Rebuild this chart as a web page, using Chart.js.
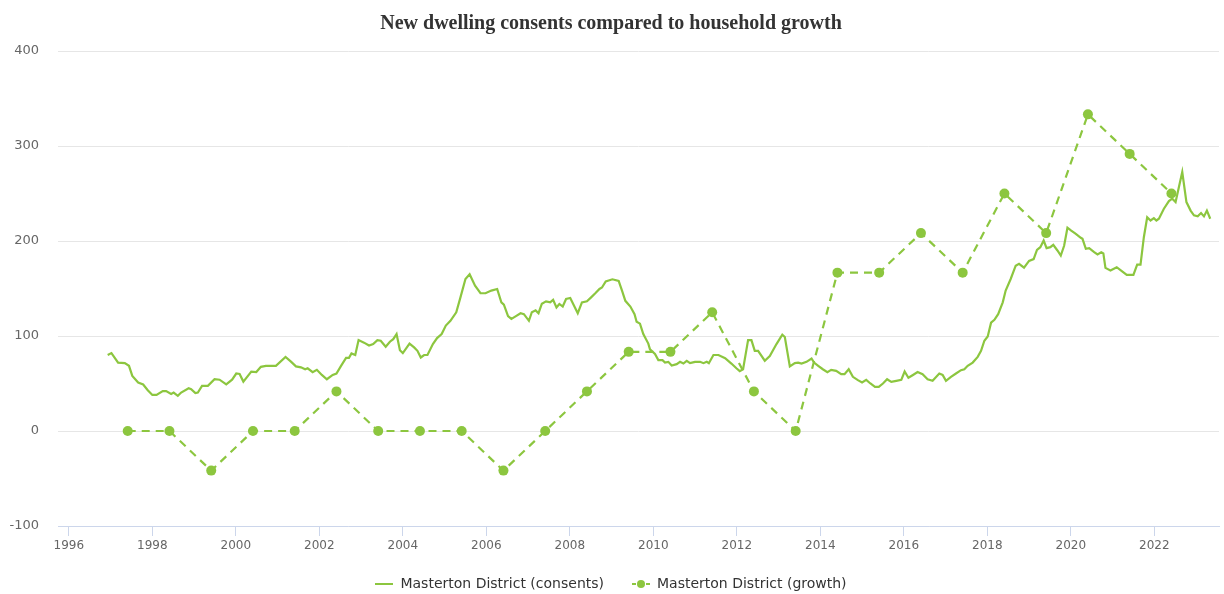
<!DOCTYPE html>
<html>
<head>
<meta charset="utf-8">
<script src="https://cdn.jsdelivr.net/npm/chart.js@4.4.1/dist/chart.umd.min.js"></script>
<style>
  html, body { margin: 0; padding: 0; background: #fff; }
  #wrap { width: 1224px; height: 594px; }
</style>
</head>
<body>
<div id="wrap"><canvas id="myChart" width="1224" height="594"></canvas></div>
<script>
// values
const xTickYears = [1996, 1998, 2000, 2002, 2004, 2006, 2008, 2010, 2012, 2014, 2016, 2018, 2020, 2022];
const yTicks = [-100, 0, 100, 200, 300, 400];

const growthYears = [1997.41, 1998.41, 1999.41, 2000.41, 2001.41, 2002.41, 2003.41, 2004.41, 2005.41,
  2006.41, 2007.41, 2008.41, 2009.41, 2010.41, 2011.41, 2012.41, 2013.41, 2014.41, 2015.41, 2016.41,
  2017.41, 2018.41, 2019.41, 2020.41, 2021.41, 2022.41];
const growthValues = [0, 0, -41.7, 0, 0, 41.7, 0, 0, 0, -41.7, 0, 41.7, 83.3, 83.3, 125, 41.7, 0,
  166.7, 166.7, 208.3, 166.7, 250, 208.3, 333.3, 291.7, 250];

const consentYears = [1996.93, 1997.02, 1997.18, 1997.34, 1997.44, 1997.52, 1997.66, 1997.78, 1997.89,
  1998.00, 1998.10, 1998.25, 1998.33, 1998.45, 1998.51, 1998.61, 1998.69, 1998.87, 1998.93, 1999.03,
  1999.09, 1999.19, 1999.33, 1999.49, 1999.61, 1999.77, 1999.91, 2000.01, 2000.09, 2000.18, 2000.37,
  2000.49, 2000.60, 2000.72, 2000.96, 2001.19, 2001.32, 2001.44, 2001.56, 2001.66, 2001.72, 2001.84,
  2001.94, 2002.06, 2002.18, 2002.32, 2002.41, 2002.52, 2002.64, 2002.71, 2002.77, 2002.86, 2002.94,
  2003.07, 2003.19, 2003.29, 2003.39, 2003.47, 2003.59, 2003.69, 2003.77, 2003.85, 2003.93, 2004.00,
  2004.16, 2004.27, 2004.35, 2004.43, 2004.51, 2004.59, 2004.72, 2004.82, 2004.93, 2005.03, 2005.14,
  2005.28, 2005.38, 2005.50, 2005.60, 2005.73, 2005.86, 2005.98, 2006.12, 2006.26, 2006.36, 2006.42,
  2006.52, 2006.60, 2006.70, 2006.82, 2006.90, 2007.02, 2007.09, 2007.18, 2007.25, 2007.33, 2007.43,
  2007.53, 2007.60, 2007.68, 2007.75, 2007.83, 2007.91, 2008.01, 2008.19, 2008.29, 2008.41, 2008.51,
  2008.61, 2008.71, 2008.77, 2008.86, 2009.02, 2009.17, 2009.25, 2009.33, 2009.45, 2009.55, 2009.60,
  2009.68, 2009.76, 2009.88, 2009.92, 2010.04, 2010.12, 2010.22, 2010.28, 2010.36, 2010.44, 2010.56,
  2010.64, 2010.72, 2010.80, 2010.88, 2011.00, 2011.12, 2011.20, 2011.28, 2011.33, 2011.44, 2011.56,
  2011.72, 2011.87, 2011.99, 2012.07, 2012.15, 2012.27, 2012.35, 2012.43, 2012.51, 2012.67, 2012.79,
  2012.95, 2013.09, 2013.15, 2013.27, 2013.39, 2013.47, 2013.55, 2013.67, 2013.79, 2013.85, 2013.95,
  2014.06, 2014.17, 2014.26, 2014.38, 2014.50, 2014.58, 2014.68, 2014.78, 2014.90, 2015.00, 2015.10,
  2015.20, 2015.31, 2015.40, 2015.50, 2015.60, 2015.70, 2015.82, 2015.94, 2016.02, 2016.11, 2016.22,
  2016.33, 2016.45, 2016.57, 2016.69, 2016.85, 2016.93, 2017.01, 2017.13, 2017.25, 2017.37, 2017.45,
  2017.53, 2017.65, 2017.77, 2017.85, 2017.93, 2018.01, 2018.09, 2018.17, 2018.26, 2018.37, 2018.44,
  2018.56, 2018.68, 2018.76, 2018.88, 2019.00, 2019.11, 2019.19, 2019.27, 2019.35, 2019.42, 2019.51,
  2019.58, 2019.68, 2019.76, 2019.84, 2019.92, 2020.01, 2020.12, 2020.24, 2020.28, 2020.36, 2020.44,
  2020.56, 2020.64, 2020.73, 2020.78, 2020.83, 2020.95, 2021.10, 2021.23, 2021.34, 2021.50, 2021.59,
  2021.67, 2021.75, 2021.83, 2021.91, 2021.99, 2022.05, 2022.11, 2022.23, 2022.35, 2022.43, 2022.51,
  2022.59, 2022.67, 2022.77, 2022.87, 2022.95, 2023.04, 2023.12, 2023.19, 2023.26, 2023.34];
const consentValues = [80, 82, 72, 71.5, 68.6, 58, 51, 49, 43,
  38, 38, 42, 42, 39, 40.5, 37, 40.5, 45, 44, 40,
  40.5, 47.5, 47.5, 54.5, 54, 49, 54, 60.5, 60, 52, 62.5,
  62, 67.5, 68.6, 68.6, 78, 73, 68, 67, 65, 66, 62,
  64.4, 59, 54.5, 59, 60.5, 68.6, 77, 77, 81.6, 80, 95.7,
  93, 90, 91.5, 95.7, 95, 88.7, 94, 96.7, 102, 85, 82,
  92, 88, 84.4, 77.4, 80, 80, 91.5, 97.8, 102, 111, 116,
  125, 140.7, 160, 165, 153, 145, 145, 147.8, 149.5, 135.4, 133,
  121, 118, 120.7, 124, 123, 116, 125, 127, 124, 134, 136.5,
  135.4, 138, 130, 133.7, 131, 139, 140, 124, 135.4, 136.5, 140.7,
  145, 149.5, 151, 157.5, 159.7, 158, 147.8, 137, 131, 123, 115,
  113, 102, 92, 86, 81, 74.6, 74.6, 72, 72.8, 69, 70.4,
  72.8, 71, 73.9, 71.4, 72.8, 72.8, 71.4, 72.8, 71.4, 80, 80,
  76.7, 71, 66, 63, 65, 95.7, 95.7, 84.4, 84.4, 74, 79,
  91.5, 101.3, 99, 68, 71.4, 72, 71, 72.8, 76.3, 72, 68.6,
  65, 62, 64.4, 63.3, 59.8, 59.8, 65, 57, 53.5, 51, 53.8,
  50, 46.4, 46.4, 50, 54.5, 51.7, 52.8, 53.8, 62.6, 56, 59,
  62, 59.8, 54.5, 52.8, 60.5, 59, 52.8, 57, 60.5, 64, 65,
  68.6, 72, 78, 84.4, 95, 99.5, 114, 117, 123, 135.4, 147.8,
  160, 174, 176, 172, 179, 181, 190.7, 193.5, 200.5, 192.5, 193.5,
  196, 190, 184.7, 195, 214, 211, 207.6, 203.4, 202.3, 191.8, 192.5,
  188.2, 185.8, 188.2, 187, 171.7, 168.9, 172.4, 168, 164.3, 164.3, 175.2,
  175.2, 204, 225, 221.6, 224, 221.6, 223.4, 234, 242, 244.5, 241,
  256.8, 272.6, 241, 232, 227, 226, 229.4, 225.9, 232, 223.4];

const green = "#8cc63f";

const toPoints = (xs, ys) => xs.map((x, i) => ({ x: x, y: ys[i] }));

// small canvases used as legend symbols
const makeSymbol = (withMarker) => {
  const c = document.createElement("canvas");
  c.width = 18;
  c.height = 14;
  const g = c.getContext("2d");
  g.strokeStyle = green;
  g.lineWidth = 2;
  if (withMarker) g.setLineDash([4, 3]);
  g.beginPath();
  g.moveTo(0, 7);
  g.lineTo(18, 7);
  g.stroke();
  if (withMarker) {
    g.fillStyle = green;
    g.beginPath();
    g.arc(9, 7, 4, 0, Math.PI * 2);
    g.fill();
  }
  return c;
};

const ctx = document.getElementById("myChart").getContext("2d");
const config = {
  type: "line",
  data: {
    datasets: [
      {
        label: "Masterton District (consents)",
        data: toPoints(consentYears, consentValues),
        borderColor: green,
        backgroundColor: green,
        borderWidth: 2.2,
        pointRadius: 0,
        tension: 0,
      },
      {
        label: "Masterton District (growth)",
        data: toPoints(growthYears, growthValues),
        borderColor: green,
        backgroundColor: green,
        borderWidth: 2.2,
        borderDash: [8, 6],
        pointRadius: 5,
        pointBorderWidth: 0,
        pointBackgroundColor: green,
        tension: 0,
      },
    ],
  },
  options: {
    responsive: false,
    animation: false,
    events: [],
    layout: { padding: { left: 0, right: 2, top: 0, bottom: -7 } },
    scales: {
      x: {
        type: "linear",
        min: 1995.74,
        max: 2023.55,
        afterBuildTicks: (scale) => {
          scale.ticks = xTickYears.map((v) => ({ value: v }));
        },
        afterFit: (scale) => {
          scale.height = 23;
        },
        border: { color: "#ccd6eb", width: 1 },
        grid: {
          drawOnChartArea: false,
          drawTicks: true,
          tickLength: 10,
          color: "#ccd6eb",
        },
        ticks: {
          padding: 3,
          maxRotation: 0,
          autoSkip: false,
          color: "#666666",
          font: { family: "DejaVu Sans", size: 12 },
          callback: (value) => String(value),
        },
      },
      y: {
        min: -100,
        max: 400,
        afterBuildTicks: (scale) => {
          scale.ticks = yTicks.map((v) => ({ value: v }));
        },
        afterFit: (scale) => {
          scale.width = 58;
        },
        border: { display: false },
        grid: { color: "#e6e6e6", drawTicks: false },
        ticks: {
          padding: 19,
          color: "#666666",
          font: { family: "DejaVu Sans", size: 13 },
          callback: (value) => String(value),
        },
      },
    },
    plugins: {
      tooltip: { enabled: false },
      title: {
        display: true,
        text: "New dwelling consents compared to household growth",
        color: "#333333",
        font: { family: "Liberation Serif", size: 20, weight: "bold" },
        padding: { top: 12, bottom: 15 },
      },
      legend: {
        position: "bottom",
        labels: {
          usePointStyle: true,
          pointStyleWidth: 18,
          padding: 28,
          color: "#333333",
          font: { family: "DejaVu Sans", size: 14 },
          generateLabels: (chart) =>
            chart.data.datasets.map((ds, i) => ({
              text: ds.label,
              datasetIndex: i,
              pointStyle: makeSymbol(i === 1),
              fontColor: "#333333",
              lineWidth: 0,
              hidden: false,
            })),
        },
      },
    },
  },
};
new Chart(ctx, config);
</script>
</body>
</html>
